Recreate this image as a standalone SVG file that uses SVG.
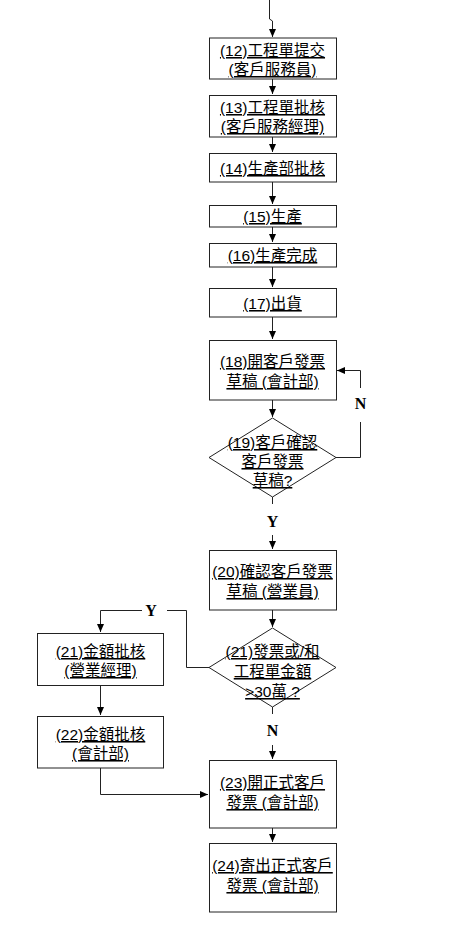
<svg xmlns="http://www.w3.org/2000/svg" width="461" height="925" viewBox="0 0 461 925">
<style>
.b{fill:#fff;stroke:#222;stroke-width:1}
.t{font-family:"Liberation Sans","Noto Sans CJK TC",sans-serif;font-size:15.5px;fill:#000;text-anchor:middle;text-decoration:underline}
.c{fill:none;stroke:#222;stroke-width:1}
.l{font-family:"Liberation Serif",serif;font-size:16px;font-weight:bold;fill:#000;text-anchor:middle}
</style>
<defs>
<marker id="a" markerUnits="userSpaceOnUse" markerWidth="8" markerHeight="8" refX="8" refY="3.5" orient="auto">
<path d="M0,0 L8,3.5 L0,7 z" fill="#000"/>
</marker>
</defs>
<rect width="461" height="925" fill="#fff"/>
<g id="connectors">
<path class="c" d="M269.5,0 V19 L272.5,21 V37" marker-end="url(#a)"/>
<path class="c" d="M272.5,79 V94" marker-end="url(#a)"/>
<path class="c" d="M272.5,137 V152" marker-end="url(#a)"/>
<path class="c" d="M272.5,182 V204" marker-end="url(#a)"/>
<path class="c" d="M272.5,227 V242" marker-end="url(#a)"/>
<path class="c" d="M272.5,267 V287" marker-end="url(#a)"/>
<path class="c" d="M272.5,317 V339" marker-end="url(#a)"/>
<path class="c" d="M272.5,400 V417" marker-end="url(#a)"/>
<path class="c" d="M336,457.5 H360.5 V422"/>
<path class="c" d="M360.5,388 V370.5 H337" marker-end="url(#a)"/>
<path class="c" d="M272.5,497 V504"/>
<path class="c" d="M272.5,535 V549" marker-end="url(#a)"/>
<path class="c" d="M272.5,610 V627" marker-end="url(#a)"/>
<path class="c" d="M209,667.5 H186.5 V610.5 H167"/>
<path class="c" d="M142,610.5 H100.5 V632" marker-end="url(#a)"/>
<path class="c" d="M100.5,685 V715" marker-end="url(#a)"/>
<path class="c" d="M100.5,768 V794.5 H208" marker-end="url(#a)"/>
<path class="c" d="M272.5,707 V714"/>
<path class="c" d="M272.5,745 V759" marker-end="url(#a)"/>
<path class="c" d="M272.5,828 V842" marker-end="url(#a)"/>
</g>
<g id="lbl-N1"><text class="l" x="360.5" y="409">N</text></g>
<g id="lbl-Y1"><text class="l" x="272.5" y="527">Y</text></g>
<g id="lbl-Y2"><text class="l" x="151" y="616">Y</text></g>
<g id="lbl-N2"><text class="l" x="272.5" y="736">N</text></g>
<g id="n12"><rect class="b" x="209.5" y="38" width="127" height="41"/>
<text class="t" x="272.5" y="56">(12)工程單提交</text><text class="t" x="272.5" y="75">(客戶服務員)</text></g>
<g id="n13"><rect class="b" x="209.5" y="95.5" width="127" height="41.5"/>
<text class="t" x="272.5" y="113">(13)工程單批核</text><text class="t" x="272.5" y="132">(客戶服務經理)</text></g>
<g id="n14"><rect class="b" x="209.5" y="153.5" width="127" height="28.5"/>
<text class="t" x="272.5" y="174">(14)生產部批核</text></g>
<g id="n15"><rect class="b" x="209.5" y="205.5" width="127" height="21.5"/>
<text class="t" x="272.5" y="222">(15)生產</text></g>
<g id="n16"><rect class="b" x="209.5" y="243.5" width="127" height="23.5"/>
<text class="t" x="272.5" y="261">(16)生產完成</text></g>
<g id="n17"><rect class="b" x="209.5" y="288.5" width="127" height="28.5"/>
<text class="t" x="272.5" y="309">(17)出貨</text></g>
<g id="n18"><rect class="b" x="209.5" y="340.5" width="127" height="59.5"/>
<text class="t" x="272.5" y="367">(18)開客戶發票</text><text class="t" x="272.5" y="387">草稿 (會計部)</text></g>
<g id="n19"><polygon class="b" points="272.5,418 336,457.5 272.5,497 209,457.5"/>
<text class="t" x="272.5" y="448">(19)客戶確認</text><text class="t" x="272.5" y="467">客戶發票</text><text class="t" x="272.5" y="486">草稿?</text></g>
<g id="n20"><rect class="b" x="209.5" y="550.5" width="127" height="59.5"/>
<text class="t" x="272.5" y="577">(20)確認客戶發票</text><text class="t" x="272.5" y="597">草稿 (營業員)</text></g>
<g id="n21d"><polygon class="b" points="272.5,628 336,667.5 272.5,707 209,667.5"/>
<text class="t" x="272.5" y="657">(21)發票或/和</text><text class="t" x="272.5" y="677">工程單金額</text><text class="t" x="272.5" y="697">&gt;30萬 ?</text></g>
<g id="n21"><rect class="b" x="37.5" y="633.5" width="126" height="52"/>
<text class="t" x="100.5" y="657">(21)金額批核</text><text class="t" x="100.5" y="676">(營業經理)</text></g>
<g id="n22"><rect class="b" x="37.5" y="716.5" width="126" height="51.5"/>
<text class="t" x="100.5" y="740">(22)金額批核</text><text class="t" x="100.5" y="759">(會計部)</text></g>
<g id="n23"><rect class="b" x="209.5" y="760.5" width="127" height="67.5"/>
<text class="t" x="272.5" y="788">(23)開正式客戶</text><text class="t" x="272.5" y="808">發票 (會計部)</text></g>
<g id="n24"><rect class="b" x="209.5" y="843.5" width="127" height="68.5"/>
<text class="t" x="272.5" y="871">(24)寄出正式客戶</text><text class="t" x="272.5" y="891">發票 (會計部)</text></g>
</svg>
